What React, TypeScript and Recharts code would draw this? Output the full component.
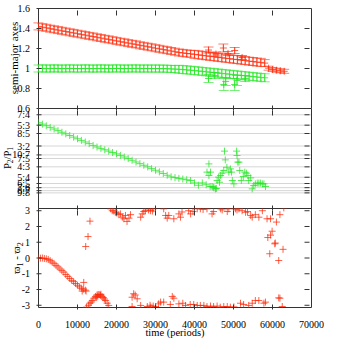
import React from "react";
import {
  ScatterChart,
  Scatter,
  XAxis,
  YAxis,
  ErrorBar,
  ReferenceArea,
  CartesianGrid,
} from "recharts";

const FONT = '"Liberation Serif", "DejaVu Serif", serif';
const RED = "#ff2a0a";
const GREEN = "#22e622";
const AXIS = "#333";

const timeTicks = [0, 10000, 20000, 30000, 40000, 50000, 60000, 70000];

// ---- panel 1: semi-major axes (time in 1000 periods) ----
const outerKt = [
  0, 1, 2, 3, 4, 5, 6, 7, 8, 9, 10, 11, 12, 13, 14, 15, 16, 17, 18, 19,
  20, 21, 22, 23, 24, 25, 26, 27, 28, 29, 30, 31, 32, 33, 34, 35, 36, 37, 38, 39,
  40, 41, 42, 43, 44, 45, 46, 47, 48, 49, 50, 51, 52, 53, 54, 55, 56, 57, 58, 59,
  60, 61, 62, 63,
  43.6, 45.5, 47.4, 48.6, 50.3, 52.2,
];
const outerA = [
  1.421, 1.413, 1.407, 1.398, 1.392, 1.384, 1.377, 1.37, 1.362, 1.356,
  1.348, 1.341, 1.334, 1.326, 1.32, 1.312, 1.305, 1.297, 1.291, 1.283,
  1.276, 1.268, 1.262, 1.254, 1.247, 1.241, 1.232, 1.226, 1.218, 1.212,
  1.203, 1.197, 1.189, 1.183, 1.175, 1.168, 1.16, 1.156, 1.15, 1.147,
  1.141, 1.137, 1.131, 1.127, 1.121, 1.118, 1.111, 1.108, 1.102, 1.099,
  1.092, 1.089, 1.083, 1.08, 1.073, 1.07, 1.064, 1.061, 1.054, 1.003,
  0.99, 0.983, 0.977, 0.972,
  1.185, 1.145, 1.205, 1.15, 1.18, 1.11,
];
const outerErr = [
  0.035, 0.035, 0.035, 0.035, 0.035, 0.035, 0.035, 0.035, 0.035, 0.035,
  0.035, 0.035, 0.035, 0.035, 0.035, 0.035, 0.035, 0.035, 0.035, 0.035,
  0.035, 0.035, 0.035, 0.035, 0.035, 0.035, 0.035, 0.035, 0.035, 0.035,
  0.035, 0.035, 0.035, 0.035, 0.035, 0.035, 0.035, 0.035, 0.035, 0.035,
  0.04, 0.04, 0.04, 0.04, 0.04, 0.04, 0.04, 0.04, 0.04, 0.04,
  0.04, 0.04, 0.04, 0.04, 0.04, 0.04, 0.04, 0.04, 0.035, 0.02,
  0.02, 0.02, 0.02, 0.02,
  0.03, 0.02, 0.04, 0.02, 0.03, 0.02,
];

const innerKt = [
  0, 1, 2, 3, 4, 5, 6, 7, 8, 9, 10, 11, 12, 13, 14, 15, 16, 17, 18, 19,
  20, 21, 22, 23, 24, 25, 26, 27, 28, 29, 30, 31, 32, 33, 34, 35, 36, 37, 38, 39,
  40, 41, 42, 43, 44, 45, 46, 47, 48, 49, 50, 51, 52, 53, 54, 55, 56, 57, 58,
  43.6, 45.2, 47.5, 48.0, 50.3, 50.9, 53.0,
];
const innerA = [
  1.0, 1.001, 0.999, 1.0, 1.001, 1.0, 0.999, 1.0, 1.001, 1.0,
  0.999, 1.0, 1.001, 1.0, 0.999, 1.0, 1.001, 1.0, 0.999, 1.0,
  1.001, 1.0, 0.999, 1.0, 1.0, 1.001, 0.999, 1.0, 1.0, 0.999,
  1.0, 0.999, 0.999, 0.998, 0.996, 0.994, 0.992, 0.989, 0.986, 0.983,
  0.979, 0.975, 0.971, 0.967, 0.963, 0.959, 0.955, 0.951, 0.947, 0.943,
  0.939, 0.935, 0.931, 0.927, 0.923, 0.919, 0.915, 0.911, 0.907,
  0.9, 0.93, 0.84, 0.87, 0.84, 0.88, 0.9,
];
const innerErr = [
  0.035, 0.035, 0.035, 0.035, 0.035, 0.035, 0.035, 0.035, 0.035, 0.035,
  0.035, 0.035, 0.035, 0.035, 0.035, 0.035, 0.035, 0.035, 0.035, 0.035,
  0.035, 0.035, 0.035, 0.035, 0.035, 0.035, 0.035, 0.035, 0.035, 0.035,
  0.035, 0.035, 0.035, 0.035, 0.035, 0.035, 0.04, 0.04, 0.04, 0.04,
  0.04, 0.04, 0.04, 0.04, 0.04, 0.04, 0.04, 0.04, 0.04, 0.04,
  0.04, 0.04, 0.04, 0.04, 0.04, 0.04, 0.04, 0.04, 0.04,
  0.04, 0.03, 0.06, 0.04, 0.06, 0.05, 0.03,
];

const aTicks = [0.6, 0.8, 1, 1.2, 1.4, 1.6];

// ---- panel 2: period ratio ----
const ratioKt = [
  0, 1, 2, 3, 4, 5, 6, 7, 8, 9, 10, 11, 12, 13, 14, 15, 16, 17, 18, 19,
  20, 21, 22, 23, 24, 25, 26, 27, 28, 29, 30, 31, 32, 33, 34, 35, 36, 37, 38, 39,
  40, 41, 42, 43, 44,
  43.2, 43.7, 44.1, 43.7, 44.5, 44.8, 45.0, 45.4, 45.6, 45.8, 46.2, 46.4, 46.7,
  47.1, 47.5, 47.7, 47.9, 48.3, 48.8, 49.2, 49.5, 49.7, 50.1, 50.8, 50.9, 51.1,
  51.4, 51.6, 52.0, 52.5, 52.9, 53.3, 53.7, 53.9, 54.4, 54.8, 55.2, 55.6, 56.1,
  56.5, 56.9, 57.4, 57.8, 58.2,
];
const ratioVal = [
  1.686, 1.675, 1.662, 1.649, 1.636, 1.623, 1.61, 1.597, 1.584, 1.571,
  1.558, 1.545, 1.532, 1.519, 1.505, 1.492, 1.481, 1.47, 1.459, 1.448,
  1.437, 1.425, 1.412, 1.399, 1.386, 1.372, 1.359, 1.346, 1.333, 1.319,
  1.306, 1.293, 1.28, 1.266, 1.253, 1.247, 1.241, 1.236, 1.23, 1.224,
  1.205, 1.186, 1.205, 1.19, 1.176,
  1.291, 1.357, 1.291, 1.264, 1.176, 1.17, 1.165, 1.157, 1.16, 1.224, 1.251, 1.21, 1.264,
  1.283, 1.304, 1.459, 1.389, 1.33, 1.291, 1.317, 1.291, 1.224, 1.197, 1.459, 1.424, 1.371,
  1.371, 1.304, 1.224, 1.256, 1.291, 1.283, 1.264, 1.224, 1.245, 1.157, 1.184, 1.197, 1.203,
  1.203, 1.203, 1.197, 1.197, 1.176,
];
const ratioTicks = [1.75, 5 / 3, 1.6, 1.5, 10 / 7, 1.4, 4 / 3, 1.25, 1.2, 7 / 6, 8 / 7, 1.125];
const ratioLabels = ["7:4", "5:3", "8:5", "3:2", "10:7", "7:5", "4:3", "5:4", "6:5", "7:6", "8:7", "9:8"];

// ---- panel 3: difference of longitudes of pericentre ----
const phaseKt = [
  0, 0.5, 1, 1.5, 2, 2.5, 3, 3.5, 4, 4.5, 5, 5.5, 6, 6.5, 7, 7.5, 8, 8.5, 9, 9.5,
  10, 10.5, 11, 11.5, 12, 11.6, 11.2, 12.2,
  12.1, 12.7, 13.2,
  12.3, 12.8, 13.2, 13.5, 13.8, 14.2, 14.6, 14.9, 15.0, 15.2, 15.3, 15.6, 15.9, 16.0,
  16.3, 16.6, 16.9, 17.2, 17.6, 18.0,
  18.5, 18.9, 19.3, 19.7, 20.1, 20.6, 21.0, 21.5, 21.9, 22.3, 22.7, 23.2, 23.6,
  26.2, 26.6, 27.0, 27.4, 28.2, 28.7, 29.2, 29.4, 32.1, 32.6, 33.0, 33.4, 34.7,
  36.0, 36.4, 36.8, 38.5, 39.0, 39.6, 40.7, 41.5, 42.2, 43.2, 44.5, 44.9, 46.7,
  47.1, 48.4, 48.8, 50.5, 50.9, 51.4, 52.2, 53.1, 53.6, 54.4, 54.8, 55.6, 56.5,
  57.4, 58.6, 59.5, 61.0, 61.9, 62.9,
  58.8, 59.5, 59.9, 60.6, 60.7, 59.3, 62.7, 61.6,
  24.0, 24.4, 24.8, 25.3, 24.0, 26.2, 27.9, 28.6, 28.8, 29.4, 30.0, 30.8, 31.3,
  32.1, 33.8, 34.3, 34.7, 36.0, 37.0, 37.7, 38.9, 39.8, 40.7, 41.5, 42.4, 43.2,
  44.1, 44.9, 45.8, 46.6, 47.5, 48.4, 49.2, 50.1, 51.8, 52.6, 53.9, 54.8, 55.6,
  56.5, 57.8, 58.2, 61.6, 61.9, 62.5,
];
const phaseVal = [
  0, -0.01, 0, -0.03, -0.05, -0.09, -0.17, -0.26, -0.36, -0.47, -0.57, -0.7, -0.8, -0.9,
  -1.05, -1.17, -1.3, -1.42, -1.5, -1.62, -1.73, -1.83, -1.92, -1.98, -2.04, -1.55, -2.1, -2.1,
  0.73, 1.36, 2.34,
  -3.12, -3.0, -2.87, -2.8, -2.7, -2.55, -2.44, -2.5, -2.35, -2.42, -2.31, -2.33, -2.37, -2.3,
  -2.45, -2.51, -2.6, -2.7, -2.87, -3.01,
  3.12, 3.0, 2.98, 2.9, 2.85, 2.75, 2.8, 2.59, 2.49, 2.7, 2.32, 2.53, 2.75,
  2.59, 2.8, 2.95, 3.0, 3.05, 3.0, 2.98, 3.12, 3.12, 2.7, 2.53, 2.7, 2.49,
  2.8, 2.59, 2.92, 3.0, 2.8, 2.95, 3.12, 3.12, 3.08, 3.12, 2.8, 2.95, 3.12,
  3.05, 2.95, 3.12, 3.12, 3.05, 3.12, 3.0, 2.9, 2.95, 2.7, 2.59, 2.75, 2.59,
  3.0, 2.49, 2.49, 2.28, 2.75, 3.18,
  1.3, 1.45, 1.7, 0.9, 0.95, 0.27, 0.55, -0.16,
  -2.49, -2.27, -2.35, -2.59, -3.08, -3.01, -3.08, -3.0, -3.12, -3.05, -3.08, -2.91, -2.8,
  -2.8, -2.95, -2.44, -2.55, -2.91, -2.87, -3.01, -2.95, -2.95, -3.01, -3.01, -3.01, -3.08,
  -3.05, -3.08, -3.05, -3.12, -3.08, -3.08, -3.12, -3.1, -2.87, -2.95, -3.01, -2.87, -2.7,
  -2.7, -2.87, -2.8, -2.53, -2.55, -3.08,
];
const phaseTicks = [-3, -2, -1, 0, 1, 2, 3];

const rows = (kt: number[], v: number[], e?: number[]) =>
  kt.map((k, i) => ({ t: k * 1000, v: v[i], err: e ? e[i] : 0 }));

const outerRows = rows(outerKt, outerA, outerErr);
const innerRows = rows(innerKt, innerA, innerErr);
const ratioRows = rows(ratioKt, ratioVal);
const phaseRows = rows(phaseKt, phaseVal);

const plus = (color: string) => (p: any) => (
  <g stroke={color} strokeOpacity={0.75} strokeWidth={1}>
    <line x1={p.cx - 3.5} y1={p.cy} x2={p.cx + 3.5} y2={p.cy} />
    <line x1={p.cx} y1={p.cy - 3.5} x2={p.cx} y2={p.cy + 3.5} />
  </g>
);

const XTick = ({ x, y, payload, ph, showLabel }: any) => {
  const v = payload.value;
  const edge = v === 0 || v === 70000;
  return (
    <g>
      {!edge && <line x1={x} y1={y} x2={x} y2={y - 5} stroke={AXIS} />}
      {!edge && <line x1={x} y1={y - ph} x2={x} y2={y - ph + 5} stroke={AXIS} />}
      {showLabel && (
        <text x={x} y={y + 18.5} textAnchor="middle" fontSize={10} fontFamily={FONT} fill="#000">
          {v}
        </text>
      )}
    </g>
  );
};

const YTick = ({ x, y, payload, pw, fmt }: any) => (
  <g>
    <line x1={x} y1={y} x2={x + 5} y2={y} stroke={AXIS} />
    <line x1={x + pw} y1={y} x2={x + pw - 5} y2={y} stroke={AXIS} />
    <text x={x - 6.5} y={y + 3.5} textAnchor="end" fontSize={10} fontFamily={FONT} fill="#000">
      {fmt(payload.value)}
    </text>
  </g>
);

const LEFT = 38.5;
const RIGHT = 311.5;

function Panel({ top, bottom, yDomain, yTicks, fmt, showX, grid, children }: any) {
  const ph = bottom - top;
  return (
    <div style={{ position: "absolute", left: 0, top: 0 }}>
      <ScatterChart
        width={349}
        height={349}
        margin={{ top, bottom: 349 - bottom - 30, left: LEFT - 30, right: 349 - RIGHT }}
      >
        {grid && <CartesianGrid vertical={false} stroke="#d6d6d6" />}
        <XAxis
          type="number"
          dataKey="t"
          domain={[0, 70000]}
          ticks={timeTicks}
          interval={0}
          height={30}
          tickSize={0}
          tickLine={false}
          axisLine={false}
          allowDataOverflow
          tick={(p: any) => <XTick {...p} ph={ph} showLabel={showX} />}
        />
        <YAxis
          type="number"
          dataKey="v"
          domain={yDomain}
          ticks={yTicks}
          interval={0}
          width={30}
          tickSize={0}
          tickLine={false}
          axisLine={false}
          allowDataOverflow
          tick={(p: any) => <YTick {...p} pw={RIGHT - LEFT} fmt={fmt} />}
        />
        <ReferenceArea
          x1={0}
          x2={70000}
          y1={yDomain[0]}
          y2={yDomain[1]}
          fill="none"
          stroke={AXIS}
          strokeWidth={1}
          ifOverflow="visible"
        />
        {children}
      </ScatterChart>
    </div>
  );
}

const fmtA = (v: number) => (v === 1 ? "1" : v.toFixed(1));
const fmtRatio = (v: number) => {
  const i = ratioTicks.findIndex((r) => Math.abs(r - v) < 1e-6);
  return i >= 0 ? ratioLabels[i] : "";
};
const fmtPhase = (v: number) => String(v);

export default function App() {
  return (
    <div style={{ position: "absolute", left: 0, top: 0, width: 349, height: 349, background: "#fff" }}>
      <Panel top={8.5} bottom={108.5} yDomain={[0.6, 1.6]} yTicks={aTicks} fmt={fmtA} showX={false}>
        <Scatter data={outerRows} shape={plus(RED)} isAnimationActive={false}>
          <ErrorBar dataKey="err" direction="y" width={5} stroke={RED} strokeOpacity={0.6} strokeWidth={1} />
        </Scatter>
        <Scatter data={innerRows} shape={plus(GREEN)} isAnimationActive={false}>
          <ErrorBar dataKey="err" direction="y" width={5} stroke={GREEN} strokeOpacity={0.6} strokeWidth={1} />
        </Scatter>
      </Panel>
      <Panel top={108.5} bottom={208.5} yDomain={[1, 1.8]} yTicks={ratioTicks} fmt={fmtRatio} showX={false} grid>
        <Scatter data={ratioRows} shape={plus(GREEN)} isAnimationActive={false} />
      </Panel>
      <Panel top={208.5} bottom={307.5} yDomain={[-Math.PI, Math.PI]} yTicks={phaseTicks} fmt={fmtPhase} showX>
        <Scatter data={phaseRows} shape={plus(RED)} isAnimationActive={false} />
      </Panel>
      <svg width={349} height={349} style={{ position: "absolute", left: 0, top: 0 }} fontFamily={FONT}>
        <text transform="translate(17.5,58) rotate(-90)" textAnchor="middle" fontSize={11} fill="#000">
          semi-major axes
        </text>
        <text transform="translate(10.5,158) rotate(-90)" textAnchor="middle" fontSize={10.5} fill="#000">
          P<tspan dy={2.5} fontSize={7.5}>2</tspan>
          <tspan dy={-2.5}>/P</tspan>
          <tspan dy={2.5} fontSize={7.5}>1</tspan>
        </text>
        <text transform="translate(20,258) rotate(-90)" textAnchor="middle" fontSize={11} fill="#000">
          ϖ<tspan dy={2.5} fontSize={8}>1</tspan>
          <tspan dy={-2.5}> - ϖ</tspan>
          <tspan dy={2.5} fontSize={8}>2</tspan>
        </text>
        <text x={175} y={335.5} textAnchor="middle" fontSize={10.5} fill="#000">
          time (periods)
        </text>
      </svg>
    </div>
  );
}
